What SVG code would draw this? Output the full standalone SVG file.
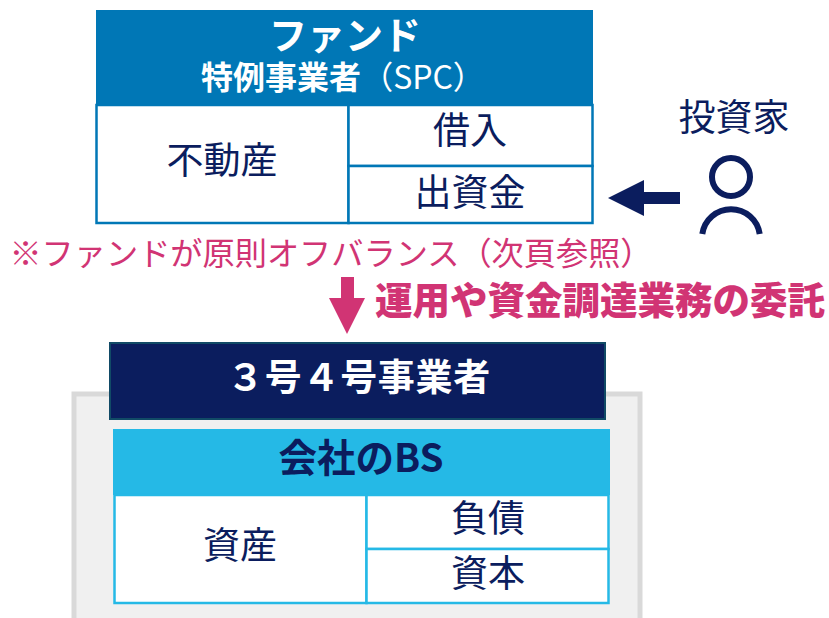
<svg xmlns="http://www.w3.org/2000/svg" width="829" height="618" viewBox="0 0 829 618">
<style>
text{font-family:"Noto Sans CJK JP","Noto Sans",sans-serif;text-anchor:middle;fill:#0b1d5e}
.w{fill:#fff;font-weight:700}
.c1{fill:#fff;stroke:#0077b6;stroke-width:2.5}
.c2{fill:#fff;stroke:#25b9e6;stroke-width:2.5}
.t{font-size:37px}
.p{fill:#d13474}
</style>
<rect width="829" height="618" fill="#fff"/>
<g id="background-panel"><path d="M74 618V394H640V618" fill="#f0f0f0" stroke="#d9d9d9" stroke-width="5"/></g>
<g id="fund">
<rect x="96" y="10" width="497" height="96" fill="#0077b6"/>
<rect class="c1" x="96.500" y="105" width="252" height="118"/>
<rect class="c1" x="348.500" y="105" width="244" height="61"/>
<rect class="c1" x="348.500" y="166" width="244" height="57"/>
<text class="w" x="345" y="49" font-size="38">ファンド</text>
<text x="343" y="89" font-size="32" style="fill:#fff"><tspan font-weight="700">特例事業者</tspan>（SPC）</text>
<text class="t" x="222" y="174">不動産</text>
<text class="t" x="470" y="144">借入</text>
<text class="t" x="470" y="206">出資金</text>
</g>
<g id="investor">
<text class="t" x="734" y="131">投資家</text>
<circle cx="731" cy="177" r="19" fill="none" stroke="#0b1d5e" stroke-width="6"/>
<path d="M702.300 234A29 29 0 0 1 759.700 234" fill="none" stroke="#0b1d5e" stroke-width="6"/>
</g>
<text id="note" x="331" y="265" font-size="32.200" class="p">※ファンドが原則オフバランス（次頁参照）</text>
<text id="delegation" x="600" y="314" font-size="37.500" font-weight="900" class="p">運用や資金調達業務の委託</text>
<g id="connectors">
<path d="M680 192H644V180L608 198L644 216V204H680Z" fill="#0b1d5e"/>
<path d="M341 277H354V298H365L347 334L329 298H341Z" fill="#d13474"/>
</g>
<g id="operator">
<rect x="110" y="343" width="495" height="76" fill="#0b1d5e" stroke="#114a66" stroke-width="2"/>
<text class="w" x="359" y="391" font-size="37" style="letter-spacing:.7px">３号４号事業者</text>
</g>
<g id="balance-sheet">
<rect x="113" y="429" width="497" height="66" fill="#25b9e6"/>
<rect class="c2" x="114.500" y="495" width="252" height="108"/>
<rect class="c2" x="366.500" y="495" width="242" height="54"/>
<rect class="c2" x="366.500" y="549" width="242" height="54"/>
<text x="361" y="472" font-size="38.500" font-weight="700">会社のBS</text>
<text class="t" x="240" y="559">資産</text>
<text class="t" x="488" y="532">負債</text>
<text class="t" x="488" y="587">資本</text>
</g>
</svg>
